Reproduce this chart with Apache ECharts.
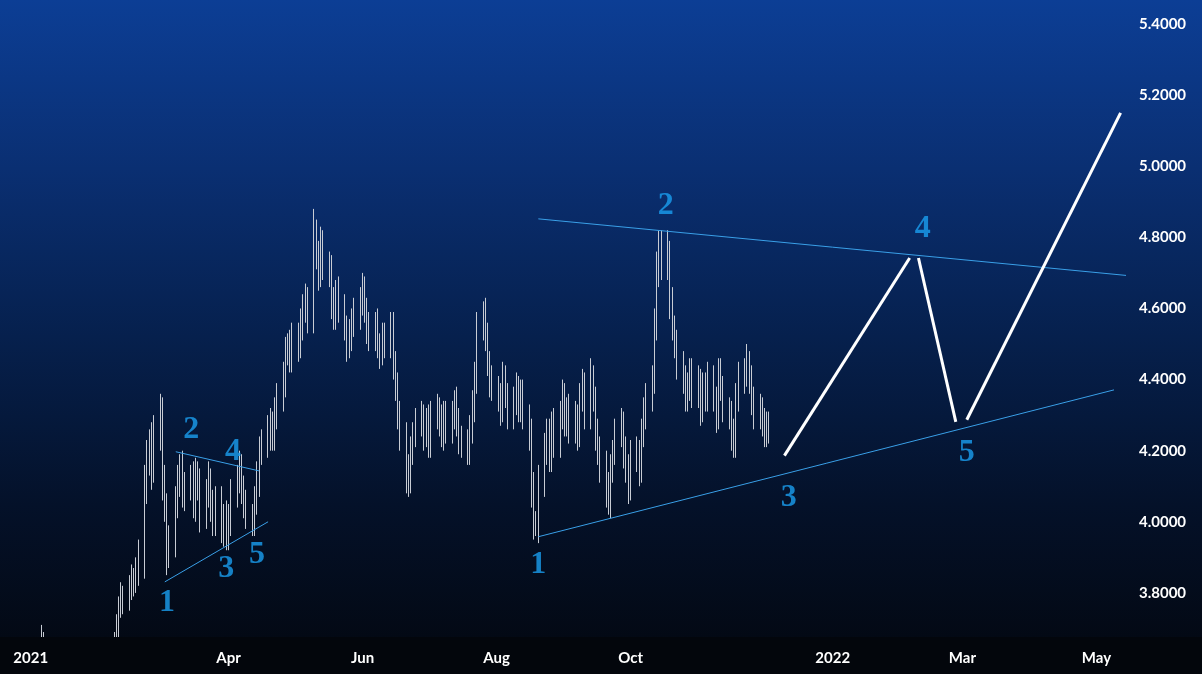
<!DOCTYPE html>
<html><head><meta charset="utf-8">
<script src="https://cdn.jsdelivr.net/npm/echarts@6/dist/echarts.min.js"></script>
<style>
html,body{margin:0;padding:0;}
#c{width:1202px;height:674px;background:linear-gradient(180deg,#0c3e95 0%,#0a2f72 25%,#06204d 50%,#041129 75%,#03070f 100%);}
</style></head><body><div id="c"></div>
<script>
// daily closes, weekly rows (Mon-Fri) starting 2021-01-04
const closes = [
3.60,3.64,3.67,3.62,3.58, 3.56,3.54,3.52,3.55,3.56, 3.55,3.53,3.52,3.55,3.54, 3.52,3.54,3.56,3.55,3.57,
3.58,3.60,3.59,3.62,3.64, 3.66,3.70,3.76,3.79,3.78, 3.82,3.84,3.83,3.86,3.90, 4.10,4.18,4.22,4.15,4.25,
4.30,4.12,4.05,3.92,3.95, 4.05,4.12,4.15,4.08,4.10, 4.12,4.05,4.14,4.10,4.02, 4.08,4.12,4.05,4.00,4.06,
3.98,4.02,3.96,4.00,4.08, 4.12,4.15,4.10,4.05,4.02, 4.00,4.06,4.12,4.20,4.22, 4.25,4.28,4.24,4.30,4.35,
4.40,4.48,4.50,4.46,4.52, 4.50,4.55,4.60,4.62,4.58, 4.80,4.75,4.70,4.78,4.72, 4.70,4.62,4.58,4.65,4.60,
4.55,4.50,4.52,4.56,4.58, 4.62,4.65,4.60,4.55,4.52, 4.55,4.50,4.48,4.52,4.50, 4.55,4.45,4.38,4.30,4.25,
4.15,4.12,4.20,4.25,4.28, 4.30,4.25,4.28,4.22,4.30, 4.32,4.28,4.25,4.30,4.26, 4.30,4.34,4.28,4.24,4.22,
4.20,4.26,4.32,4.40,4.55, 4.58,4.52,4.45,4.40,4.38, 4.35,4.32,4.40,4.36,4.30, 4.34,4.38,4.32,4.36,4.30,
4.25,4.10,4.00,3.98,4.12, 4.20,4.25,4.18,4.28,4.22, 4.30,4.35,4.28,4.32,4.26, 4.30,4.25,4.35,4.38,4.30,
4.40,4.35,4.25,4.20,4.15, 4.10,4.05,4.15,4.20,4.25, 4.28,4.20,4.15,4.10,4.18, 4.20,4.15,4.25,4.30,4.35,
4.40,4.55,4.70,4.78,4.72, 4.75,4.62,4.55,4.50,4.45, 4.40,4.35,4.38,4.42,4.36, 4.40,4.32,4.38,4.35,4.40,
4.35,4.30,4.42,4.38,4.32, 4.30,4.25,4.22,4.35,4.40, 4.42,4.45,4.40,4.35,4.30, 4.32,4.28,4.25,4.28,4.26
];
// upper / lower wick beyond body, hundredths
const wickUp = [
3,2,4,2,3, 2,3,2,3,2, 2,3,2,2,3, 2,3,2,3,2,
2,3,2,3,2, 3,4,3,4,3, 3,4,3,4,5, 6,5,4,6,5,
6,5,4,3,4, 5,4,4,5,4, 4,5,4,3,5, 4,5,3,4,4,
4,3,4,5,4, 4,5,4,3,4, 3,4,5,4,4, 5,4,3,5,4,
5,4,3,4,4, 4,5,4,5,4, 8,5,4,5,4, 4,5,4,3,4,
4,3,5,4,5, 4,5,4,3,4, 4,5,3,4,4, 4,4,3,4,4,
3,4,4,3,4, 4,3,4,5,4, 4,3,5,4,4, 4,3,4,4,3,
4,4,5,5,4, 4,5,4,3,4, 3,4,5,4,3, 4,4,3,4,4,
3,4,4,3,4, 5,4,4,3,4, 4,5,4,3,4, 4,3,4,5,4,
6,4,3,4,4, 5,4,4,3,4, 4,3,4,4,5, 4,3,4,5,4,
4,5,6,4,4, 7,4,4,3,4, 3,4,4,4,4, 4,3,4,4,5,
4,3,4,4,3, 3,4,4,4,5, 4,5,3,4,3, 4,3,4,3,3
];
const wickDn = [
3,2,3,4,2, 3,2,3,2,3, 2,3,2,3,2, 3,2,3,2,2,
3,2,3,2,3, 4,3,4,3,4, 3,4,4,3,4, 6,5,5,6,4,
5,6,5,7,5, 5,4,5,4,5, 4,4,5,4,5, 4,4,5,4,4,
4,5,4,4,4, 4,4,5,4,4, 4,4,4,5,4, 4,5,4,4,4,
4,5,4,4,4, 5,4,4,4,5, 5,4,5,4,4, 4,5,4,4,4,
4,5,4,4,4, 4,4,4,5,4, 4,4,5,4,4, 4,5,4,4,5,
7,5,4,4,4, 4,5,4,4,4, 4,4,4,5,4, 4,4,4,5,4,
4,4,4,4,4, 4,4,4,5,4, 4,5,4,4,4, 4,4,4,4,4,
5,6,5,2,4, 5,4,4,4,4, 4,4,4,4,4, 4,5,4,4,4,
4,4,5,4,4, 6,3,4,4,4, 4,5,4,5,4, 4,5,4,4,4,
4,4,4,4,4, 4,5,4,4,5, 4,4,4,4,4, 4,5,4,4,4,
4,5,4,4,4, 4,5,4,4,4, 4,4,4,5,4, 4,4,4,4,4
];
const yTicks = [3.8,4.0,4.2,4.4,4.6,4.8,5.0,5.2,5.4];
const xTickDates = ['2021-01-01','2021-04-01','2021-06-01','2021-08-01','2021-10-01','2022-01-01','2022-03-01','2022-05-01'];
const xTickLabels = ['2021','Apr','Jun','Aug','Oct','2022','Mar','May'];
const bigUpper = [['2021-08-20',4.852],['2022-05-16',4.692]];
const bigLower = [['2021-08-20',3.958],['2022-05-09',4.371]];
const smallUpper = [['2021-03-08',4.197],['2021-04-15',4.143]];
const smallLower = [['2021-03-03',3.831],['2021-04-19',4.000]];
const projA = [['2021-12-10',4.186],['2022-02-05',4.742]];
const projB = [['2022-02-09',4.742],['2022-02-26',4.281]];
const projC = [['2022-03-03',4.287],['2022-05-12',5.150]];
const waveLabels = [
 ['2021-03-04',3.772,'1'],['2021-03-15',4.259,'2'],['2021-03-31',3.868,'3'],['2021-04-03',4.197,'4'],['2021-04-14',3.907,'5'],
 ['2021-08-20',3.879,'1'],['2021-10-17',4.888,'2'],['2021-12-12',4.067,'3'],['2022-02-11',4.824,'4'],['2022-03-03',4.194,'5']
];

const ts = s => new Date(s + 'T00:00:00Z').getTime();
const ohlc = [];
let d = Date.UTC(2021,0,4), prev = closes[0];
for (let i = 0; i < closes.length; i++) {
  const o = prev, c = closes[i];
  ohlc.push([d, o, c, Math.min(o,c) - wickDn[i]/100, Math.max(o,c) + wickUp[i]/100]);
  prev = c;
  d += 86400000;
  if (new Date(d).getUTCDay() === 6) d += 2*86400000;
}
const toPts = a => a.map(p => [ts(p[0]), p[1]]);
const lineS = (a, col, w) => ({type:'line', data:toPts(a), symbol:'none', silent:true, lineStyle:{color:col,width:w}, z:5});
const tickMap = {};
xTickDates.forEach((s,i)=>tickMap[ts(s)] = xTickLabels[i]);

const chart = echarts.init(document.getElementById('c'));
chart.setOption({
  animation:false,
  grid:{left:0,right:77,top:0,bottom:37},
  graphic:[{type:'rect', left:0, bottom:0, z:50, shape:{width:1202,height:37}, style:{fill:'#03060c'}}],
  xAxis:{type:'value', z:60, min:ts('2020-12-18'), max:ts('2022-05-14'),
    splitLine:{show:false}, axisLine:{show:false}, axisTick:{show:false},
    axisLabel:{customValues:xTickDates.map(ts), formatter:v=>tickMap[v]||'', color:'#ffffff', fontSize:15, fontWeight:'bold', fontFamily:'Lato', margin:14}},
  yAxis:{type:'value', position:'right', min:3.676, max:5.4675,
    splitLine:{show:false}, axisLine:{show:false}, axisTick:{show:false},
    axisLabel:{customValues:yTicks, formatter:v=>v.toFixed(4), color:'#ffffff', fontSize:15, fontWeight:'bold', fontFamily:'Lato', margin:14}},
  series:[
    {type:'candlestick', data:ohlc, barWidth:1, clip:true,
      itemStyle:{color:'#c8ccd4',color0:'#c8ccd4',borderColor:'#c8ccd4',borderColor0:'#c8ccd4',borderWidth:1}},
    lineS(bigUpper,'#3aa0e8',1), lineS(bigLower,'#3aa0e8',1),
    lineS(smallUpper,'#3aa0e8',1), lineS(smallLower,'#3aa0e8',1),
    lineS(projA,'#ffffff',3), lineS(projB,'#ffffff',3), lineS(projC,'#ffffff',3),
    {type:'scatter', symbolSize:0, silent:true, z:10,
      data:waveLabels.map(w=>({value:[ts(w[0]),w[1]], name:w[2]})),
      label:{show:true, position:'inside', formatter:p=>p.name, color:'#1a9ff0', fontSize:32, fontWeight:'bold', fontFamily:'Liberation Serif'}}
  ]
});
</script></body></html>
